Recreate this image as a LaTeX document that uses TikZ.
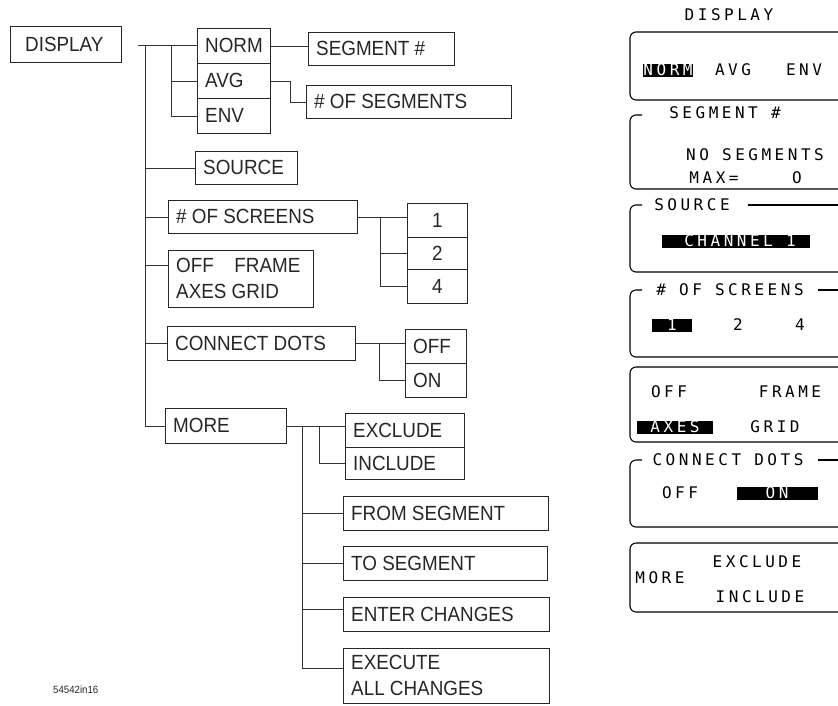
\documentclass[tikz,border=0pt]{standalone}
\usepackage{fontspec}
\setmainfont{Liberation Sans}[FakeStretch=0.92]
\newfontfamily\lcdfont{DejaVu Sans Mono}[LetterSpace=22]
\tikzset{
 lbox/.style={draw=black!85, line width=0.8pt, anchor=north west, inner sep=0pt},
 lfont/.style={font=\fontsize{20.5}{26}\selectfont, text=black!85},
 ltext/.style={lfont, inner sep=0pt, anchor=west, align=left},
 conn/.style={draw=black!80, line width=0.7pt},
 rpanel/.style={draw=black, line width=1.1pt, rounded corners=6pt},
 rtext/.style={font=\lcdfont\fontsize{16}{18}\selectfont, inner sep=0pt},
 hl/.style={fill=black, inner sep=0pt, text=white},
}
\newcommand\lbox[6]{%
 \node[lbox, minimum width=#4pt, minimum height=#5pt] (#1) at (#2,#3) {};
 \node[ltext] (#1t) at ([xshift=8pt]#1.west) {#6};}
\newcommand\cbox[6]{%
 \node[lbox, lfont, minimum width=#4pt, minimum height=#5pt] (#1) at (#2,#3) {#6};}
\begin{document}
\begin{tikzpicture}[x=1pt,y=-1pt]
\useasboundingbox (0,0) rectangle (838,705);
\clip (0,0) rectangle (838,705);
% ---- menu tree ----
\node[lbox, minimum width=111pt, minimum height=36pt] (disp) at (10,26) {};
\node[ltext] (dispt) at ([xshift=15pt]disp.west) {DISPLAY};
\lbox{norm}{197}{28}{73}{35}{NORM}
\lbox{avg}{197}{63}{73}{35}{AVG}
\lbox{env}{197}{98}{73}{35}{ENV}
\lbox{segno}{308}{32}{146}{33}{SEGMENT \#}
\lbox{nsegs}{306}{85}{205}{33}{\# OF SEGMENTS}
\lbox{source}{195}{151}{102}{33}{SOURCE}
\lbox{screens}{168}{200}{189}{33}{\# OF SCREENS}
\cbox{one}{407}{203}{60}{34}{1}
\cbox{two}{407}{237}{60}{32}{2}
\cbox{four}{407}{269}{60}{34}{4}
\lbox{grid}{168}{250}{145}{57}{OFF\quad FRAME\\AXES GRID}
\lbox{cdots}{167}{326}{188}{34}{CONNECT DOTS}
\lbox{off}{405}{329}{61}{34}{OFF}
\lbox{on}{405}{363}{61}{34}{ON}
\lbox{more}{165}{408}{121}{35}{MORE}
\lbox{excl}{345}{413}{119}{34}{EXCLUDE}
\lbox{incl}{345}{447}{119}{32}{INCLUDE}
\lbox{from}{343}{496}{205}{34}{FROM SEGMENT}
\lbox{to}{343}{546}{204}{34}{TO SEGMENT}
\lbox{enter}{343}{597}{206}{34}{ENTER CHANGES}
\lbox{exec}{343}{648}{206}{55}{EXECUTE\\ALL CHANGES}
% connectors
\coordinate (t0) at (138,45);
\coordinate (bus) at (145,45);
\coordinate (sub) at (171,45);
\draw[conn] (t0) -- (t0 -| norm.west);
\draw[conn] (bus) -- (bus |- more.west) -- (more.west);
\draw[conn] (sub) -- (sub |- env.west) -- (env.west);
\draw[conn] (sub |- avg.west) -- (avg.west);
\draw[conn] (bus |- source.west) -- (source.west);
\draw[conn] (bus |- screens.west) -- (screens.west);
\coordinate (gridc) at ([yshift=-15pt]grid.north west);
\draw[conn] (bus |- gridc) -- (gridc);
\draw[conn] (bus |- cdots.west) -- (cdots.west);
\draw[conn] (norm.east) -- (norm.east -| segno.west);
\coordinate (avgj) at (290,0);
\draw[conn] (avg.east) -- (avg.east -| avgj) -- (avgj |- nsegs.west) -- (nsegs.west);
\coordinate (sj) at (380,0);
\draw[conn] (screens.east) -- (screens.east -| one.west);
\draw[conn] (screens.east -| sj) -- (sj |- four.west) -- (four.west);
\draw[conn] (sj |- two.west) -- (two.west);
\coordinate (cj) at (379,0);
\draw[conn] (cdots.east) -- (cdots.east -| off.west);
\draw[conn] (cdots.east -| cj) -- (cj |- on.west) -- (on.west);
\coordinate (mj) at (302,0);
\coordinate (ij) at (319,0);
\draw[conn] (more.east) -- (more.east -| excl.west);
\coordinate (execc) at ([yshift=-20pt]exec.north west);
\coordinate (enterc) at ([yshift=-12pt]enter.north west);
\draw[conn] (more.east -| mj) -- (mj |- execc) -- (execc);
\draw[conn] (more.east -| ij) -- (ij |- incl.west) -- (incl.west);
\draw[conn] (mj |- from.west) -- (from.west);
\draw[conn] (mj |- to.west) -- (to.west);
\draw[conn] (mj |- enterc) -- (enterc);
\node[font=\fontsize{10.5}{12}\selectfont, text=black!85, anchor=west, inner sep=0pt] (figlabel) at (53,690) {54542in16};
% ---- screen panels ----
\node[rtext] (p0title) at (729,15) {DISPLAY};
\draw[rpanel] (845,32) -- (630,32) -- (630,100) -- (845,100);
\node[hl, minimum width=50pt, minimum height=13pt] (p1hl) at (668,70) {};
\node[rtext, text=white] (p1norm) at (p1hl) {NORM};
\node[rtext] (p1avg) at (733,70) {AVG};
\node[rtext] (p1env) at (804,70) {ENV};
% segment #
\draw[rpanel] (642,115) -- (630,115) -- (630,189) -- (845,189);
\node[rtext] (p2title) at (725,113) {SEGMENT \#};
\node[rtext] (p2a) at (755,155) {NO SEGMENTS};
\node[rtext] (p2b) at (714,178) {MAX=};
\node[rtext] (p2c) at (797,178) {O};
% source
\draw[rpanel] (642,205) -- (630,205) -- (630,272) -- (845,272);
\draw[rpanel] (748,205) -- (845,205);
\node[rtext] (p3title) at (692,205) {SOURCE};
\node[hl, minimum width=148pt, minimum height=13pt] (p3hl) at (736,241) {};
\node[rtext, text=white] (p3ch) at (740,241) {CHANNEL 1};
% # of screens
\draw[rpanel] (642,290) -- (630,290) -- (630,357) -- (845,357);
\draw[rpanel] (818,290) -- (845,290);
\node[rtext] (p4title) at (730,290) {\# OF SCREENS};
\node[hl, minimum width=40pt, minimum height=13pt] (p4hl) at (672,325) {};
\node[rtext, text=white] (p4one) at (p4hl) {1};
\node[rtext] (p4two) at (738,325) {2};
\node[rtext] (p4four) at (800,325) {4};
% off frame axes grid
\draw[rpanel] (845,367) -- (630,367) -- (630,442) -- (845,442);
\node[rtext] (p5off) at (669,392) {OFF};
\node[rtext] (p5frame) at (790,392) {FRAME};
\node[hl, minimum width=76pt, minimum height=13pt] (p5hl) at (675,427) {};
\node[rtext, text=white] (p5axes) at (p5hl) {AXES};
\node[rtext] (p5grid) at (775,427) {GRID};
% connect dots
\draw[rpanel] (642,460) -- (630,460) -- (630,527) -- (845,527);
\draw[rpanel] (818,460) -- (845,460);
\node[rtext] (p6title) at (728,460) {CONNECT DOTS};
\node[rtext] (p6off) at (680,493) {OFF};
\node[hl, minimum width=81pt, minimum height=13pt] (p6hl) at (777,493) {};
\node[rtext, text=white] (p6on) at (p6hl) {ON};
% more
\draw[rpanel] (845,543) -- (630,543) -- (630,612) -- (845,612);
\node[rtext] (p7excl) at (757,562) {EXCLUDE};
\node[rtext] (p7more) at (660,578) {MORE};
\node[rtext] (p7incl) at (760,597) {INCLUDE};
\end{tikzpicture}
\end{document}
